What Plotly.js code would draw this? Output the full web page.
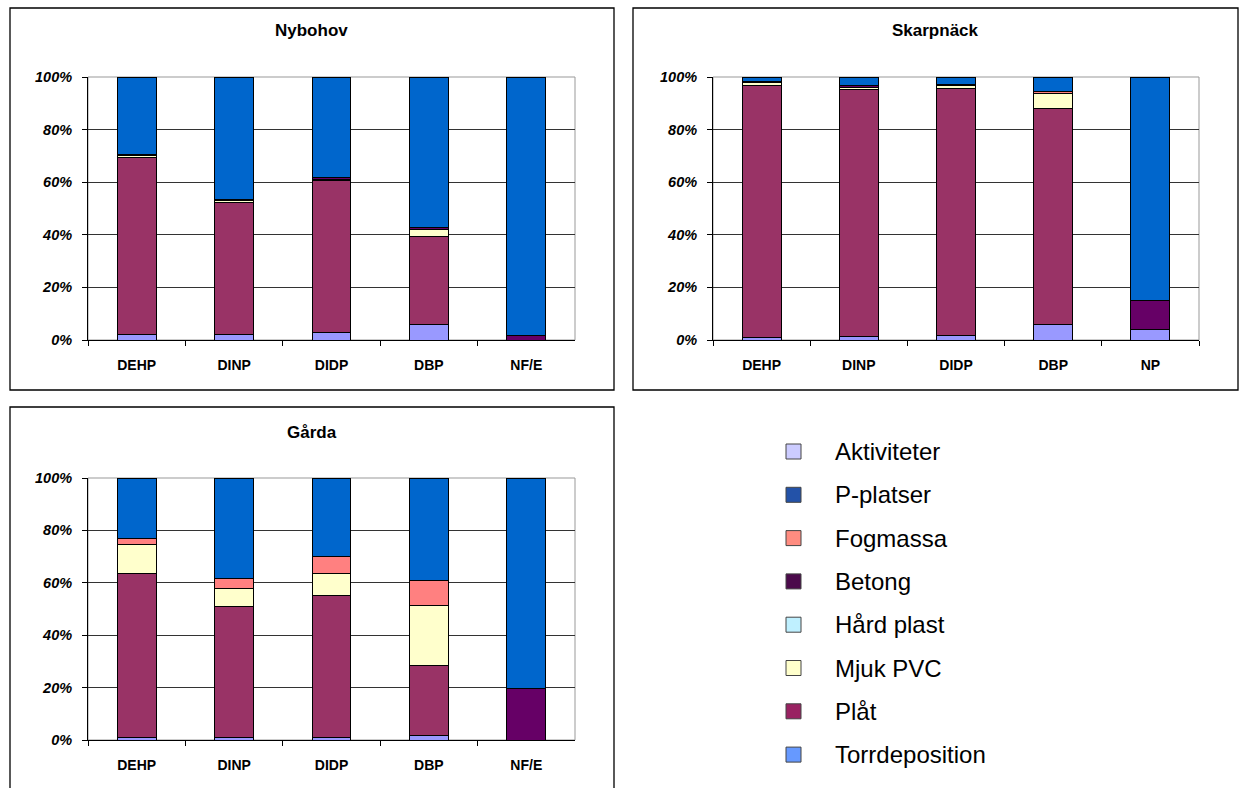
<!DOCTYPE html>
<html>
<head>
<meta charset="utf-8">
<script src="https://cdn.plot.ly/plotly-3.0.1.min.js"></script>
<style>
  html, body { margin: 0; padding: 0; background: #ffffff; }
  #chart { width: 1240px; height: 788px; }
</style>
</head>
<body>
<div id="chart"></div>
<script>
// Source shares (%) of phthalates and nonylphenol compounds per catchment
const sites = ['Nybohov', 'Skarpnäck', 'Gårda'];
const catsNybohov = ['DEHP', 'DINP', 'DIDP', 'DBP', 'NF/E'];
const catsSkarpnack = ['DEHP', 'DINP', 'DIDP', 'DBP', 'NP'];
const catsGarda = ['DEHP', 'DINP', 'DIDP', 'DBP', 'NF/E'];

// Series listed from the bottom of each stack to the top
const seriesNames = ['Torrdeposition', 'Plåt', 'Mjuk PVC', 'Hård plast', 'Betong', 'Fogmassa', 'P-platser', 'Aktiviteter'];

const nybohovTorrdeposition = [2.0, 2.0, 3.0, 6.0, 0];
const nybohovPlat           = [67.3, 50.3, 57.6, 33.3, 0];
const nybohovMjukPVC        = [1.0, 0.6, 0.6, 2.9, 0];
const nybohovHardPlast      = [0, 0, 0, 0, 0];
const nybohovBetong         = [0.3, 0.6, 0.7, 0.6, 1.8];
const nybohovFogmassa       = [0, 0, 0, 0, 0];
const nybohovPPlatser       = [29.4, 46.5, 38.1, 57.2, 98.2];
const nybohovAktiviteter    = [0, 0, 0, 0, 0];

const skarpnackTorrdeposition = [1.1, 1.5, 1.8, 6.0, 4.1];
const skarpnackPlat           = [95.5, 93.8, 93.9, 82.1, 0];
const skarpnackMjukPVC        = [1.3, 0.8, 1.2, 5.7, 0];
const skarpnackHardPlast      = [0, 0, 0, 0, 0];
const skarpnackBetong         = [0.4, 0.6, 0.4, 0, 10.8];
const skarpnackFogmassa       = [0, 0, 0, 0.6, 0];
const skarpnackPPlatser       = [1.7, 3.3, 2.7, 5.6, 85.1];
const skarpnackAktiviteter    = [0, 0, 0, 0, 0];

const gardaTorrdeposition = [0.8, 0.8, 1.0, 1.8, 0];
const gardaPlat           = [62.6, 50.0, 54.1, 26.6, 0];
const gardaMjukPVC        = [11.4, 7.1, 8.5, 23.0, 0];
const gardaHardPlast      = [0, 0, 0, 0, 0];
const gardaBetong         = [0, 0, 0, 0, 19.6];
const gardaFogmassa       = [2.0, 3.6, 6.5, 9.6, 0];
const gardaPPlatser       = [23.2, 38.5, 29.9, 39.0, 80.4];
const gardaAktiviteter    = [0, 0, 0, 0, 0];

const yTicks = [0, 20, 40, 60, 80, 100];
const yTickLabels = ['0%', '20%', '40%', '60%', '80%', '100%'];

// Fill colours of the bar segments
const barColors = ['#9999FF', '#993366', '#FFFFCC', '#CCFFFF', '#660066', '#FF8080', '#0066CC', '#CCCCFF'];
// Legend entries (top to bottom) and their swatch colours
const legendNames = ['Aktiviteter', 'P-platser', 'Fogmassa', 'Betong', 'Hård plast', 'Mjuk PVC', 'Plåt', 'Torrdeposition'];
const legendColors = ['#CCCCFF', '#2352A8', '#FF8C80', '#4B0A4B', '#BFF0FF', '#FFFFCC', '#992262', '#6699FF'];

const W = 1240, H = 788;
const px = x => x / W;
const py = y => 1 - y / H;

const panels = [
  { cats: catsNybohov, data: [nybohovTorrdeposition, nybohovPlat, nybohovMjukPVC, nybohovHardPlast, nybohovBetong, nybohovFogmassa, nybohovPPlatser, nybohovAktiviteter],
    plot: [88, 77, 575, 340], box: [10, 8, 614, 390], titleY: 30 },
  { cats: catsSkarpnack, data: [skarpnackTorrdeposition, skarpnackPlat, skarpnackMjukPVC, skarpnackHardPlast, skarpnackBetong, skarpnackFogmassa, skarpnackPPlatser, skarpnackAktiviteter],
    plot: [713, 77, 1199, 340], box: [633, 8, 1238, 390], titleY: 30 },
  { cats: catsGarda, data: [gardaTorrdeposition, gardaPlat, gardaMjukPVC, gardaHardPlast, gardaBetong, gardaFogmassa, gardaPPlatser, gardaAktiviteter],
    plot: [88, 478, 575, 740], box: [10, 407, 614, 800], titleY: 432 }
];

const FONT = 'Liberation Sans, Arial, sans-serif';
const traces = [];
const layout = {
  width: W, height: H,
  margin: { l: 0, r: 0, t: 0, b: 0 },
  paper_bgcolor: '#ffffff', plot_bgcolor: '#ffffff',
  barmode: 'stack', bargap: 0.6,
  showlegend: false,
  font: { family: FONT, color: '#000000' },
  shapes: [], annotations: []
};

panels.forEach((p, i) => {
  const n = i === 0 ? '' : String(i + 1);
  const xa = 'x' + n, ya = 'y' + n;
  seriesNames.forEach((name, s) => {
    traces.push({
      type: 'bar', name: name, x: p.cats,
      y: p.data[s].map(v => (v > 0 ? v : null)),
      xaxis: xa, yaxis: ya,
      marker: { color: barColors[s], line: { color: '#000000', width: 1 } },
      hoverinfo: 'skip'
    });
  });
  const [l, t, r, b] = p.plot;
  layout['xaxis' + n] = {
    domain: [px(l), px(r)], anchor: ya, type: 'category',
    showline: true, linecolor: '#000000', linewidth: 1,
    ticks: 'outside', tickson: 'boundaries', ticklen: 5, tickcolor: '#000000',
    showgrid: false, fixedrange: true, ticklabelstandoff: 12,
    tickfont: { family: FONT, size: 14, weight: 'bold', color: '#000000' }
  };
  layout['yaxis' + n] = {
    domain: [py(b), py(t)], anchor: xa, range: [0, 100],
    tickvals: yTicks, ticktext: yTickLabels,
    showline: true, linecolor: '#000000', linewidth: 1,
    ticks: 'outside', ticklen: 5, tickcolor: '#000000',
    showgrid: true, gridcolor: '#333333', gridwidth: 1, zeroline: false,
    fixedrange: true, ticklabelstandoff: 7,
    tickfont: { family: FONT, size: 14.5, weight: 'bold', style: 'italic', color: '#000000' }
  };
  // grey frame of the plotting area
  layout.shapes.push({ type: 'rect', xref: 'paper', yref: 'paper', layer: 'below',
    x0: px(l), x1: px(r), y0: py(b), y1: py(t), line: { color: '#999999', width: 1 } });
  // outer chart border
  const [bl, bt, br, bb] = p.box;
  layout.shapes.push({ type: 'rect', xref: 'paper', yref: 'paper',
    x0: px(bl), x1: px(br), y0: py(bb), y1: py(bt), line: { color: '#000000', width: 1.3 } });
  layout.annotations.push({ xref: 'paper', yref: 'paper', x: px((bl + br) / 2), y: py(p.titleY),
    text: sites[i], showarrow: false, xanchor: 'center', yanchor: 'middle',
    font: { family: FONT, size: 17, weight: 'bold', color: '#000000' } });
});

// Legend block
legendNames.forEach((name, k) => {
  const cy = 451.5 + k * 43.3;
  layout.shapes.push({ type: 'rect', xref: 'paper', yref: 'paper',
    x0: px(786), x1: px(801), y0: py(cy + 7.5), y1: py(cy - 7.5),
    fillcolor: legendColors[k], line: { color: '#444444', width: 1 } });
  layout.annotations.push({ xref: 'paper', yref: 'paper', x: px(833), y: py(cy),
    text: name, showarrow: false, xanchor: 'left', yanchor: 'middle',
    font: { family: FONT, size: 24, color: '#000000' } });
});

Plotly.newPlot('chart', traces, layout, { staticPlot: true, displayModeBar: false });
</script>
</body>
</html>
